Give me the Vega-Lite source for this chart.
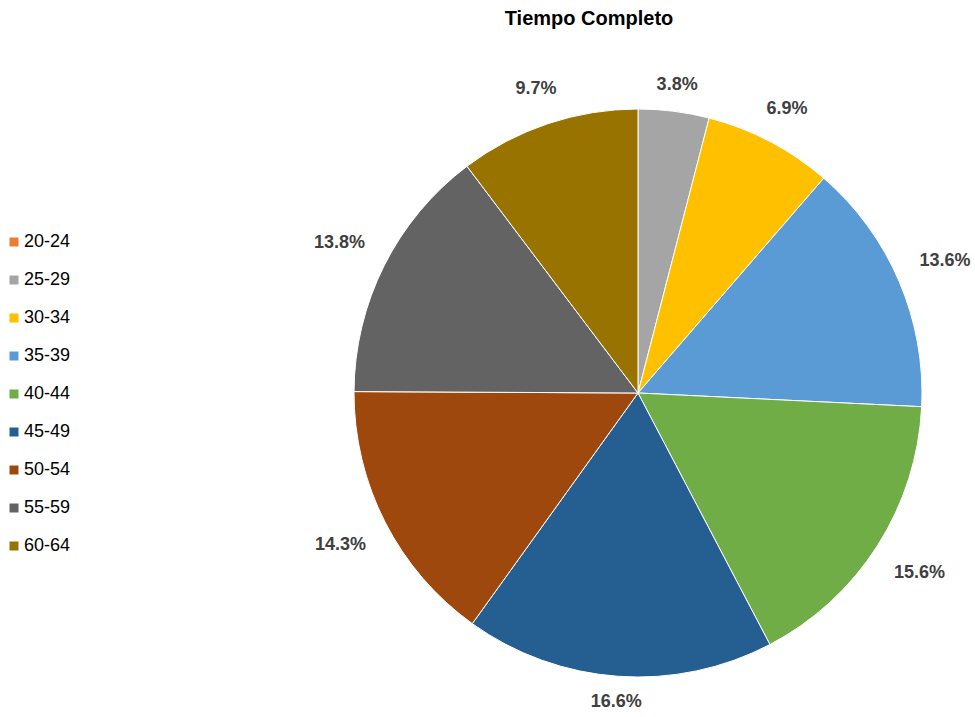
{
  "$schema": "https://vega.github.io/schema/vega-lite/v6.json",
  "width": 600,
  "height": 600,
  "autosize": {"type": "none"},
  "padding": {"left": 338, "top": 93, "right": 37, "bottom": 24},
  "background": "white",
  "title": {
    "text": "Tiempo Completo",
    "font": "Liberation Sans",
    "fontSize": 20,
    "fontWeight": "bold",
    "color": "#000000",
    "anchor": "middle",
    "dx": -49,
    "offset": 21
  },
  "data": {
    "values": [
      {"grupo": "20-24", "orden": 1, "valor": 0.0, "etiqueta": "0.0%", "zona": "ninguna"},
      {"grupo": "25-29", "orden": 2, "valor": 3.8, "etiqueta": "3.8%", "zona": "vertical"},
      {"grupo": "30-34", "orden": 3, "valor": 6.9, "etiqueta": "6.9%", "zona": "diagonal"},
      {"grupo": "35-39", "orden": 4, "valor": 13.6, "etiqueta": "13.6%", "zona": "lateral"},
      {"grupo": "40-44", "orden": 5, "valor": 15.6, "etiqueta": "15.6%", "zona": "lateral"},
      {"grupo": "45-49", "orden": 6, "valor": 16.6, "etiqueta": "16.6%", "zona": "vertical"},
      {"grupo": "50-54", "orden": 7, "valor": 14.3, "etiqueta": "14.3%", "zona": "lateral"},
      {"grupo": "55-59", "orden": 8, "valor": 13.8, "etiqueta": "13.8%", "zona": "lateral"},
      {"grupo": "60-64", "orden": 9, "valor": 9.7, "etiqueta": "9.7%", "zona": "diagonal"}
    ]
  },
  "encoding": {
    "theta": {"field": "valor", "type": "quantitative", "stack": true},
    "order": {"field": "orden", "type": "quantitative"}
  },
  "layer": [
    {
      "mark": {"type": "arc", "outerRadius": 284, "stroke": "white", "strokeWidth": 1},
      "encoding": {
        "color": {
          "field": "grupo",
          "type": "nominal",
          "scale": {
            "domain": ["20-24", "25-29", "30-34", "35-39", "40-44", "45-49", "50-54", "55-59", "60-64"],
            "range": ["#ED7D31", "#A5A5A5", "#FFC000", "#5B9BD5", "#70AD47", "#255E91", "#9E480E", "#636363", "#997300"]
          },
          "legend": {
            "title": null,
            "orient": "none",
            "legendX": -333,
            "legendY": 140,
            "symbolType": "square",
            "symbolSize": 81,
            "symbolStrokeWidth": 0,
            "labelFont": "Liberation Sans",
            "labelFontSize": 18,
            "labelColor": "#000000",
            "labelOffset": 1,
            "rowPadding": 20
          }
        }
      }
    },
    {
      "mark": {"type": "text", "radius": 334, "font": "Liberation Sans", "fontSize": 18, "fontWeight": "bold", "fill": "#404040", "align": "center", "baseline": "middle"},
      "encoding": {"text": {"condition": {"test": "datum.zona == 'lateral'", "field": "etiqueta"}, "value": ""}}
    },
    {
      "mark": {"type": "text", "radius": 321, "font": "Liberation Sans", "fontSize": 18, "fontWeight": "bold", "fill": "#404040", "align": "center", "baseline": "middle"},
      "encoding": {"text": {"condition": {"test": "datum.zona == 'diagonal'", "field": "etiqueta"}, "value": ""}}
    },
    {
      "mark": {"type": "text", "radius": 310, "font": "Liberation Sans", "fontSize": 18, "fontWeight": "bold", "fill": "#404040", "align": "center", "baseline": "middle"},
      "encoding": {"text": {"condition": {"test": "datum.zona == 'vertical'", "field": "etiqueta"}, "value": ""}}
    }
  ]
}
